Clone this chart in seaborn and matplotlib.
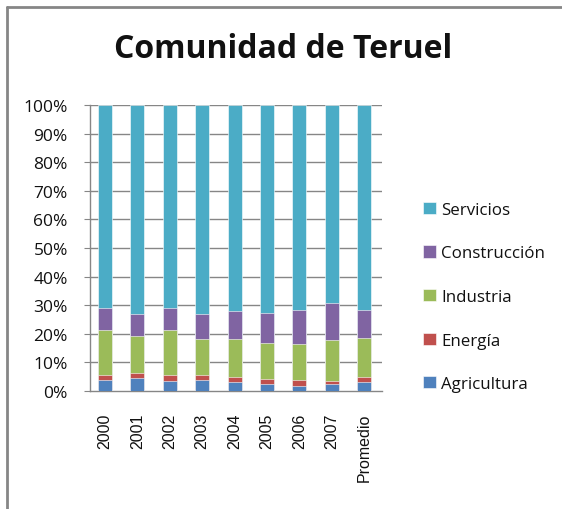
import numpy as np
import pandas as pd
import matplotlib
matplotlib.use('Agg')
import matplotlib.pyplot as plt
from matplotlib.lines import Line2D
from matplotlib.ticker import PercentFormatter
import seaborn as sns

# values in % of each year's total
years = ['2000', '2001', '2002', '2003', '2004', '2005', '2006', '2007', 'Promedio']
agricultura = [3.8, 4.5, 3.5, 3.8, 3.0, 2.3, 1.9, 2.3, 3.0]
energia = [1.9, 1.8, 2.2, 1.9, 2.0, 2.0, 2.1, 1.2, 2.0]
industria = [15.7, 12.8, 15.5, 12.6, 13.3, 12.6, 12.3, 14.4, 13.6]
construccion = [7.6, 7.9, 7.8, 8.7, 9.5, 10.5, 11.9, 12.7, 9.6]
servicios = [71.0, 73.0, 71.0, 73.0, 72.2, 72.6, 71.8, 69.4, 71.8]

series = ['Agricultura', 'Energía', 'Industria', 'Construcción', 'Servicios']
colors = ['#4F81BD', '#C0504D', '#9BBB59', '#8064A2', '#4BACC6']

FONT = 'Open Sans'

df = pd.DataFrame({'year': years, 'Agricultura': agricultura, 'Energía': energia,
                   'Industria': industria, 'Construcción': construccion,
                   'Servicios': servicios})
cum = df[series].cumsum(axis=1)
cum['year'] = df['year']

sns.set_style('white')
plt.rcParams['font.family'] = FONT

fig = plt.figure(figsize=(5.62, 5.10), dpi=100)
ax = fig.add_axes([90/562, 1-392/510, 292/562, 286/510])

# draw cumulative tops from largest to smallest so the stack shows through
for name, col in reversed(list(zip(series, colors))):
    sns.barplot(ax=ax, data=cum, x='year', y=name, color=col, width=0.43,
                label=name, saturation=1, edgecolor='white', linewidth=0.4,
                zorder=3)

handles, labels = ax.get_legend_handles_labels()
if ax.get_legend() is not None:
    ax.get_legend().remove()

ax.set_xlim(-0.46, 8.55)
ax.set_ylim(0, 100)
ax.set_yticks(range(0, 101, 10))
ax.yaxis.set_major_formatter(PercentFormatter(decimals=0))
ax.set_xlabel('')
ax.set_ylabel('')
for y in range(10, 101, 10):
    ax.axhline(y, color='#868686', linewidth=1, zorder=1)

for s in ['top', 'right']:
    ax.spines[s].set_visible(False)
for s in ['left', 'bottom']:
    ax.spines[s].set_color('#868686')
    ax.spines[s].set_linewidth(1)

ax.tick_params(axis='y', left=True, length=4, color='#868686', pad=12,
               labelsize=12.5, labelcolor='#111111')
ax.tick_params(axis='x', bottom=False, pad=12, labelsize=11.5, labelcolor='#111111')
for lab in ax.get_xticklabels():
    lab.set_rotation(90)
    lab.set_family('Liberation Sans')

leg = fig.legend(handles, labels, loc='center left',
                 bbox_to_anchor=(408/562, 1-298/510), frameon=False,
                 fontsize=12.2, labelspacing=1.62, handlelength=0.75,
                 handleheight=0.75, handletextpad=0.3)
for t in leg.get_texts():
    t.set_color('#111111')

fig.text(0.503, 1-50/510, 'Comunidad de Teruel', ha='center', va='center',
         fontsize=23, fontweight='bold', family=FONT, color='#111111')

# chart border (left and top edges visible)
fig.add_artist(Line2D([7/562, 7/562], [0, 1-8/510], transform=fig.transFigure,
                      color='#868686', linewidth=2))
fig.add_artist(Line2D([7/562, 1], [1-8/510, 1-8/510], transform=fig.transFigure,
                      color='#868686', linewidth=2))

fig.savefig('out.png', dpi=100)
